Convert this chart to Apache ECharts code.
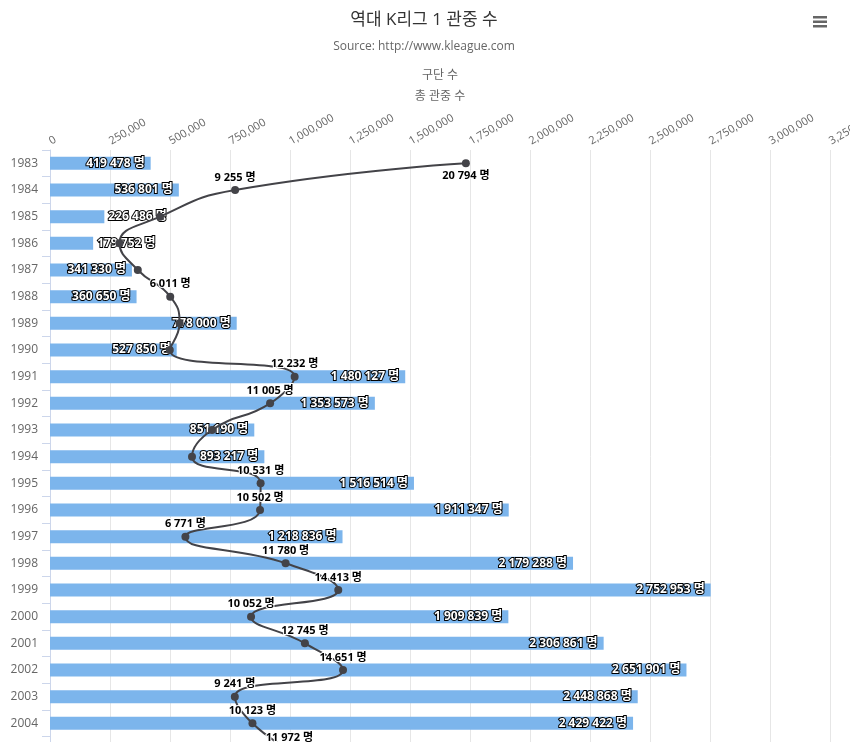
<!DOCTYPE html>
<html>
<head>
<meta charset="utf-8">
<script src="https://cdn.jsdelivr.net/npm/echarts@6/dist/echarts.min.js"></script>
<style>
html,body{margin:0;padding:0;background:#fff;overflow:hidden;}
#chart{width:850px;height:800px;}
</style>
</head>
<body>
<div id="chart"></div>
<script>
// ---- data ----
const years = ['1983','1984','1985','1986','1987','1988','1989','1990','1991','1992','1993','1994','1995','1996','1997','1998','1999','2000','2001','2002','2003','2004','2005'];
const totalAttendance = [419478,536801,226486,179752,341330,360650,778000,527850,1480127,1353573,851190,893217,1516514,1911347,1218836,2179288,2752953,1909839,2306861,2651901,2448868,2429422,null];
const avgAttendance = [20794,9255,5500,3470,4390,6011,6480,5990,12232,11005,8100,7100,10531,10502,6771,11780,14413,10052,12745,14651,9241,10123,11972];
const totalTicks = {min:0, max:3250000, interval:250000};
const avgTicks = {min:0, max:39000, interval:3000};
// average labels that are hidden in the reference (overlapping the bar labels)
const hiddenAvgLabelYears = ['1985','1986','1987','1989','1990','1993','1994'];

const FONT = '"Open Sans", "Noto Sans CJK KR", sans-serif';
const fmtSpace = v => String(v).replace(/\B(?=(\d{3})+(?!\d))/g, ' ');
const fmtComma = v => String(v).replace(/\B(?=(\d{3})+(?!\d))/g, ',');

const barData = totalAttendance.map(v => {
  if (v == null) return null;
  const pxLen = v / totalTicks.max * 780;
  return {
    value: v,
    label: pxLen < 80 ? {position: 'right', distance: 4} : {}
  };
});
const lineData = avgAttendance.map((v, i) => ({
  value: v,
  label: {
    show: hiddenAvgLabelYears.indexOf(years[i]) < 0,
    position: i === 0 ? 'bottom' : 'top',
    distance: 3
  }
}));

const chart = echarts.init(document.getElementById('chart'), null, {renderer: 'canvas'});
chart.setOption({
  animation: false,
  backgroundColor: '#ffffff',
  textStyle: {fontFamily: FONT},
  title: {
    text: '역대 K리그 1 관중 수',
    subtext: 'Source: http://www.kleague.com',
    left: 419, top: 4, textAlign: 'center',
    itemGap: 8,
    textStyle: {fontFamily: FONT, fontSize: 17, fontWeight: 'normal', color: '#333333', lineHeight: 22},
    subtextStyle: {fontFamily: FONT, fontSize: 12, color: '#666666', lineHeight: 16}
  },
  graphic: [
    {type: 'rect', shape: {x: 813, y: 16, width: 14, height: 2.5}, style: {fill: '#666666'}},
    {type: 'rect', shape: {x: 813, y: 20.5, width: 14, height: 2.5}, style: {fill: '#666666'}},
    {type: 'rect', shape: {x: 813, y: 25, width: 14, height: 2.5}, style: {fill: '#666666'}}
  ],
  grid: {left: 50, right: 20, top: 150, bottom: 36.7, containLabel: false, outerBoundsMode: 'none'},
  xAxis: [
    {
      type: 'value', position: 'top',
      min: totalTicks.min, max: totalTicks.max, interval: totalTicks.interval,
      name: '총 관중 수', nameLocation: 'middle', nameGap: 47, nameMoveOverlap: false,
      nameTextStyle: {color: '#666666', fontSize: 12, fontFamily: FONT},
      axisLine: {show: false}, axisTick: {show: false},
      axisLabel: {rotate: -30, color: '#666666', fontSize: 11, margin: 8, formatter: fmtComma, fontFamily: FONT, showMaxLabel: true, hideOverlap: false},
      splitLine: {show: true, lineStyle: {color: '#e6e6e6', width: 1}}
    },
    {
      type: 'value', position: 'top',
      min: avgTicks.min, max: avgTicks.max, interval: avgTicks.interval,
      name: '구단 수', nameLocation: 'middle', nameGap: 68, nameMoveOverlap: false,
      nameTextStyle: {color: '#666666', fontSize: 12, fontFamily: FONT},
      axisLine: {show: false}, axisTick: {show: false},
      axisLabel: {show: false}, splitLine: {show: false}
    }
  ],
  yAxis: {
    type: 'category', data: years, inverse: true,
    axisLine: {show: true, lineStyle: {color: '#ccd6eb', width: 1}},
    axisTick: {show: true, length: 8, lineStyle: {color: '#ccd6eb'}},
    axisLabel: {color: '#666666', fontSize: 12, margin: 12, fontFamily: FONT},
    splitLine: {show: false}
  },
  series: [
    {
      name: '총 관중 수', type: 'bar', xAxisIndex: 0, yAxisIndex: 0,
      data: barData, barWidth: 13,
      itemStyle: {color: '#7cb5ec'},
      z: 2,
      label: {
        show: true, position: 'insideRight', distance: 6,
        formatter: p => fmtSpace(p.value) + ' 명',
        color: '#ffffff', fontWeight: 'bold', fontSize: 12, fontFamily: FONT,
        textBorderColor: '#000000', textBorderWidth: 2
      }
    },
    {
      name: '평균 관중 수', type: 'line', xAxisIndex: 1, yAxisIndex: 0,
      data: lineData, smooth: 0.5,
      symbol: 'circle', symbolSize: 8,
      lineStyle: {color: '#434348', width: 2},
      itemStyle: {color: '#434348'},
      z: 3,
      label: {
        show: true,
        formatter: p => fmtSpace(p.value) + ' 명',
        color: '#000000', fontWeight: 'bold', fontSize: 11, fontFamily: FONT,
        textBorderColor: '#ffffff', textBorderWidth: 2
      }
    }
  ]
});
</script>
</body>
</html>
